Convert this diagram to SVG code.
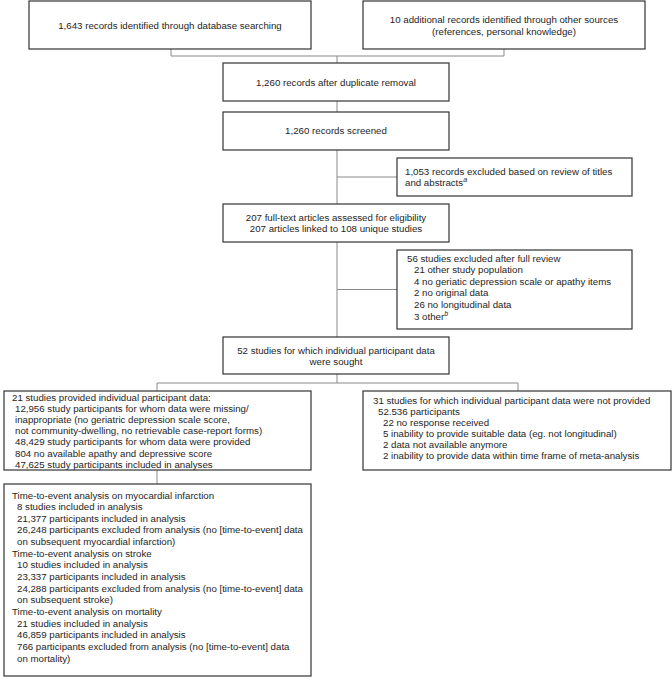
<svg xmlns="http://www.w3.org/2000/svg" width="672" height="680" viewBox="0 0 672 680">
<style>
.box{fill:#fff;stroke:#333;stroke-width:1.2}
.t{font-family:"Liberation Sans",Arial,sans-serif;font-size:9.7px;fill:#1e1e1e}
.c{text-anchor:middle}
.sup{font-size:7px;font-style:italic}
.con{fill:none;stroke:#8a8a8a;stroke-width:1}
</style>
<rect width="672" height="680" fill="#fff"/>
<g id="connectors">
<path class="con" d="M171 49V56H504V49M337 56V63"/>
<path class="con" d="M337 101V112"/>
<path class="con" d="M337 150V204M337 177H397"/>
<path class="con" d="M337 242V337M337 289.5H397"/>
<path class="con" d="M337 374V383M157 391V383H518V391"/>
<path class="con" d="M157 470V484"/>
</g>
<g id="n1"><rect class="box" x="29" y="1" width="282" height="48"/>
<text class="t c" x="170" y="28.5">1,643 records identified through database searching</text></g>
<g id="n2"><rect class="box" x="363" y="1" width="282" height="48"/>
<text class="t c" x="504" y="23">10 additional records identified through other sources</text>
<text class="t c" x="504" y="34.5">(references, personal knowledge)</text></g>
<g id="n3"><rect class="box" x="223" y="63" width="226" height="38"/>
<text class="t c" x="336" y="85.5">1,260 records after duplicate removal</text></g>
<g id="n4"><rect class="box" x="223" y="112" width="226" height="38"/>
<text class="t c" x="336" y="134">1,260 records screened</text></g>
<g id="n5"><rect class="box" x="397" y="158" width="235" height="38"/>
<text class="t" x="405" y="174.5">1,053 records excluded based on review of titles</text>
<text class="t" x="405" y="186">and abstracts<tspan class="sup" dy="-4">a</tspan></text></g>
<g id="n6"><rect class="box" x="223" y="204" width="226" height="38"/>
<text class="t c" x="336" y="220.8">207 full-text articles assessed for eligibility</text>
<text class="t c" x="336" y="232.3">207 articles linked to 108 unique studies</text></g>
<g id="n7"><rect class="box" x="397" y="250" width="235" height="79"/>
<text class="t" x="407" y="261.5">56 studies excluded after full review</text>
<text class="t" x="414" y="273.1">21 other study population</text>
<text class="t" x="414" y="284.7">4 no geriatic depression scale or apathy items</text>
<text class="t" x="414" y="296.3">2 no original data</text>
<text class="t" x="414" y="307.9">26 no longitudinal data</text>
<text class="t" x="414" y="319.5">3 other<tspan class="sup" dy="-4">b</tspan></text></g>
<g id="n8"><rect class="box" x="223" y="337" width="226" height="37"/>
<text class="t c" x="336" y="353.5">52 studies for which individual participant data</text>
<text class="t c" x="336" y="365">were sought</text></g>
<g id="n9"><rect class="box" x="4" y="391" width="307" height="79"/>
<text class="t" x="12" y="400.5">21 studies provided individual participant data:</text>
<text class="t" x="15" y="411.7">12,956 study participants for whom data were missing/</text>
<text class="t" x="15" y="422.9">inappropriate (no geriatric depression scale score,</text>
<text class="t" x="15" y="434.1">not community-dwelling, no retrievable case-report forms)</text>
<text class="t" x="15" y="445.3">48,429 study participants for whom data were provided</text>
<text class="t" x="15" y="456.5">804 no available apathy and depressive score</text>
<text class="t" x="15" y="467.7">47,625 study participants included in analyses</text></g>
<g id="n10"><rect class="box" x="363" y="391" width="308" height="79"/>
<text class="t" x="373" y="404">31 studies for which individual participant data were not provided</text>
<text class="t" x="378" y="415">52.536 participants</text>
<text class="t" x="383" y="426">22 no response received</text>
<text class="t" x="383" y="437">5 inability to provide suitable data (eg. not longitudinal)</text>
<text class="t" x="383" y="448">2 data not available anymore</text>
<text class="t" x="383" y="459">2 inability to provide data within time frame of meta-analysis</text></g>
<g id="n11"><rect class="box" x="4" y="484" width="307" height="192"/>
<text class="t" x="12" y="498.5">Time-to-event analysis on myocardial infarction</text>
<text class="t" x="17" y="510.1">8 studies included in analysis</text>
<text class="t" x="17" y="521.8">21,377 participants included in analysis</text>
<text class="t" x="17" y="533.4">26,248 participants excluded from analysis (no [time-to-event] data</text>
<text class="t" x="17" y="545.1">on subsequent myocardial infarction)</text>
<text class="t" x="12" y="556.7">Time-to-event analysis on stroke</text>
<text class="t" x="17" y="568.3">10 studies included in analysis</text>
<text class="t" x="17" y="580">23,337 participants included in analysis</text>
<text class="t" x="17" y="591.6">24,288 participants excluded from analysis (no [time-to-event] data</text>
<text class="t" x="17" y="603.3">on subsequent stroke)</text>
<text class="t" x="12" y="614.9">Time-to-event analysis on mortality</text>
<text class="t" x="17" y="626.5">21 studies included in analysis</text>
<text class="t" x="17" y="638.2">46,859 participants included in analysis</text>
<text class="t" x="17" y="649.8">766  participants excluded from analysis (no [time-to-event] data</text>
<text class="t" x="17" y="661.5">on mortality)</text></g>
</svg>
